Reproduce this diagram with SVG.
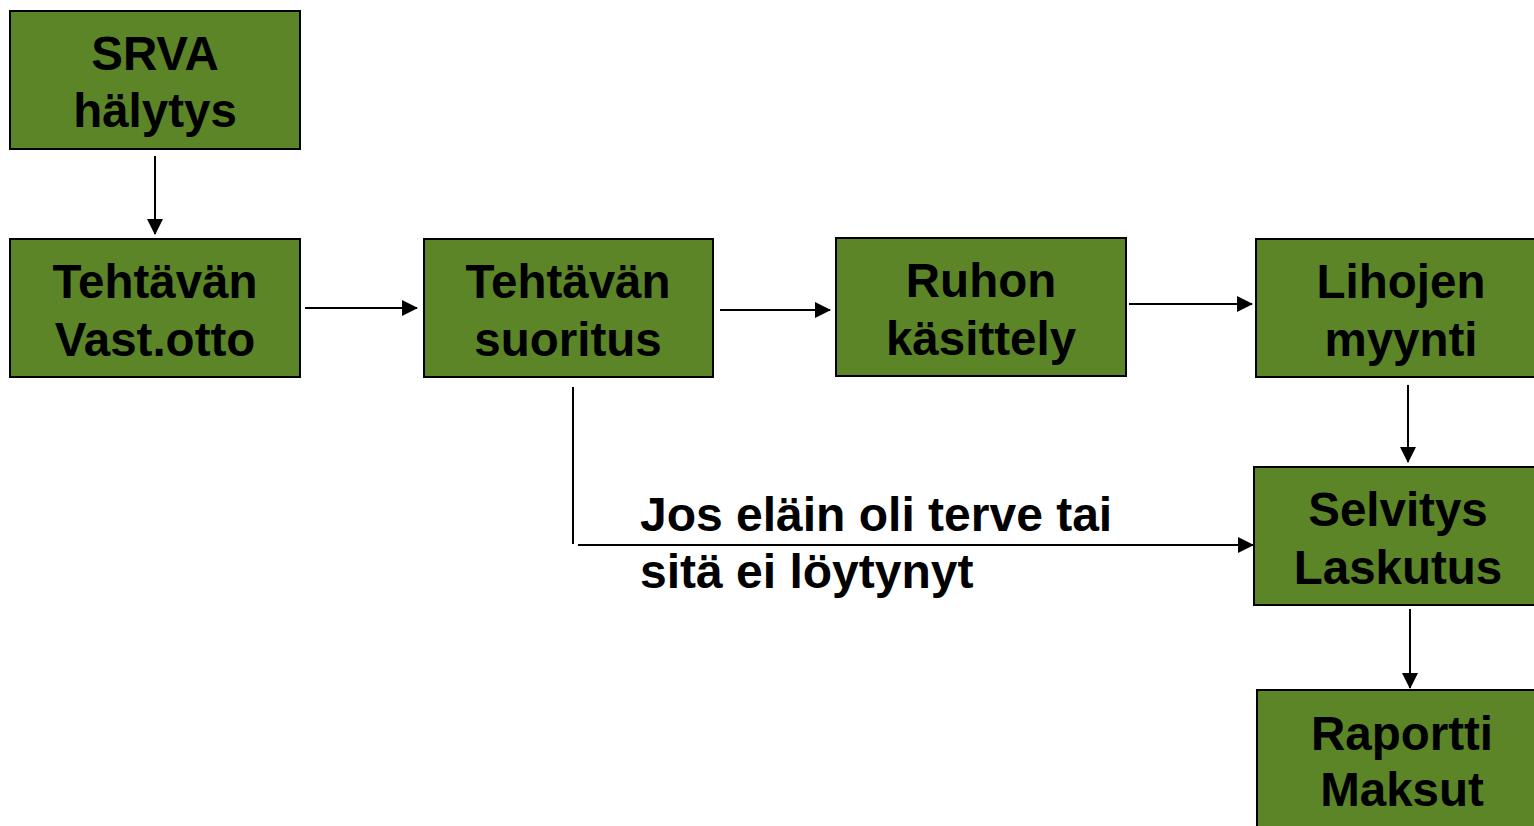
<svg xmlns="http://www.w3.org/2000/svg" width="1534" height="826" viewBox="0 0 1534 826">
<defs>
<style>
.box{fill:#5B8527;stroke:#000;stroke-width:2}
.t{font-family:"Liberation Sans",Arial,sans-serif;font-weight:bold;font-size:47.5px;fill:#000;text-anchor:middle}
.lbl{font-family:"Liberation Sans",Arial,sans-serif;font-weight:bold;font-size:48px;fill:#000}
.c{stroke:#000;stroke-width:2;fill:none}
</style>
<marker id="ah" markerUnits="userSpaceOnUse" markerWidth="16" markerHeight="16" viewBox="0 0 16 16" refX="15" refY="8" orient="auto">
<path d="M0,0 L16,8 L0,16 Z" fill="#000"/>
</marker>
</defs>
<rect width="1534" height="826" fill="#fff"/>
<g id="n1"><rect class="box" x="10" y="11" width="290" height="138"/><text class="t" x="155" y="70">SRVA</text><text class="t" x="155" y="127">hälytys</text></g>
<g id="n2"><rect class="box" x="10" y="239" width="290" height="138"/><text class="t" x="155" y="298">Tehtävän</text><text class="t" x="155" y="356">Vast.otto</text></g>
<g id="n3"><rect class="box" x="424" y="239" width="289" height="138"/><text class="t" x="568" y="298">Tehtävän</text><text class="t" x="568" y="356">suoritus</text></g>
<g id="n4"><rect class="box" x="836" y="238" width="290" height="138"/><text class="t" x="981" y="297">Ruhon</text><text class="t" x="981" y="355">käsittely</text></g>
<g id="n5"><rect class="box" x="1256" y="239" width="290" height="138"/><text class="t" x="1401" y="298">Lihojen</text><text class="t" x="1401" y="356">myynti</text></g>
<g id="n6"><rect class="box" x="1254" y="467" width="292" height="138"/><text class="t" x="1398" y="526">Selvitys</text><text class="t" x="1398" y="584">Laskutus</text></g>
<g id="n7"><rect class="box" x="1257" y="690" width="290" height="150"/><text class="t" x="1402" y="750">Raportti</text><text class="t" x="1402" y="806">Maksut</text></g>
<g id="connectors">
<line class="c" x1="155" y1="156" x2="155" y2="234" marker-end="url(#ah)"/>
<line class="c" x1="305" y1="308" x2="417" y2="308" marker-end="url(#ah)"/>
<line class="c" x1="720" y1="310" x2="830" y2="310" marker-end="url(#ah)"/>
<line class="c" x1="1129" y1="304" x2="1252" y2="304" marker-end="url(#ah)"/>
<line class="c" x1="1408" y1="385" x2="1408" y2="462" marker-end="url(#ah)"/>
<line class="c" x1="1410" y1="609" x2="1410" y2="688" marker-end="url(#ah)"/>
<line class="c" x1="573" y1="387" x2="573" y2="544"/>
<line class="c" x1="578" y1="545" x2="1253" y2="545" marker-end="url(#ah)"/>
<text class="lbl" x="640" y="531">Jos eläin oli terve tai</text>
<text class="lbl" x="640" y="588">sitä ei löytynyt</text>
</g>
</svg>
